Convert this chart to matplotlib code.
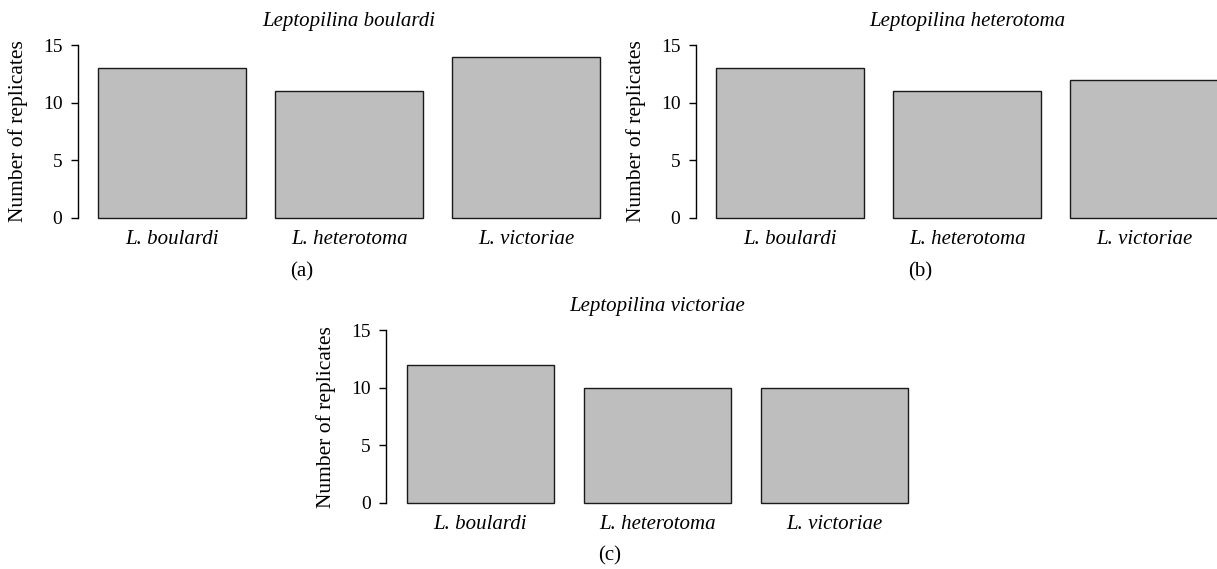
import matplotlib
matplotlib.use('Agg')
import matplotlib.pyplot as plt

plt.rcParams['font.family'] = ['Liberation Serif', 'DejaVu Serif']

species = ['L. boulardi', 'L. heterotoma', 'L. victoriae']
titles = ['Leptopilina boulardi', 'Leptopilina heterotoma', 'Leptopilina victoriae']
panel_tags = ['(a)', '(b)', '(c)']

counts_a = [13, 11, 14]
counts_b = [13, 11, 12]
counts_c = [12, 10, 10]
yticks = [0, 5, 10, 15]

W, H = 1217, 569
fig = plt.figure(figsize=(W / 100, H / 100), dpi=100)


def fx(px):
    return px / W


def fy(py):
    return 1 - py / H


# axes geometry in pixels (left spine x, y of bottom edge)
ax_w = 542.8
ax_h = 186.5
spots = [(77.7, 224.6), (695.7, 224.6), (386.0, 509.9)]
tag_pos = [(302, 272), (920, 272), (610, 556)]

pos = [0, 1.2, 2.4]

for i, counts in enumerate([counts_a, counts_b, counts_c]):
    left, bottom = spots[i]
    ax = fig.add_axes([fx(left), fy(bottom), ax_w / W, ax_h / H])
    ax.bar(pos, counts, width=1, color='#bebebe', edgecolor='#1a1a1a', linewidth=1.0)
    ax.set_xlim(-0.64, 3.04)
    ax.set_ylim(-0.6, 15.6)
    for s in ['top', 'right', 'bottom']:
        ax.spines[s].set_visible(False)
    ax.spines['left'].set_bounds(0, 15)
    ax.spines['left'].set_linewidth(1.0)
    ax.set_yticks(yticks)
    ax.tick_params(axis='y', length=5, width=1.0, pad=6, labelsize=14)
    ax.set_xticks(pos)
    ax.set_xticklabels(species, fontstyle='italic', fontsize=15)
    ax.tick_params(axis='x', length=0, pad=4)
    ax.set_ylabel('Number of replicates', fontsize=15.5)
    ax.yaxis.set_label_coords(-60 / ax_w, 0.5)
    ax.yaxis.label.set_va('center')
    ax.set_title(titles[i], fontstyle='italic', fontsize=15, pad=9)
    tx, ty = tag_pos[i]
    fig.text(fx(tx), fy(ty), panel_tags[i], ha='center', va='center', fontsize=15)

fig.savefig('out.png', dpi=100)
